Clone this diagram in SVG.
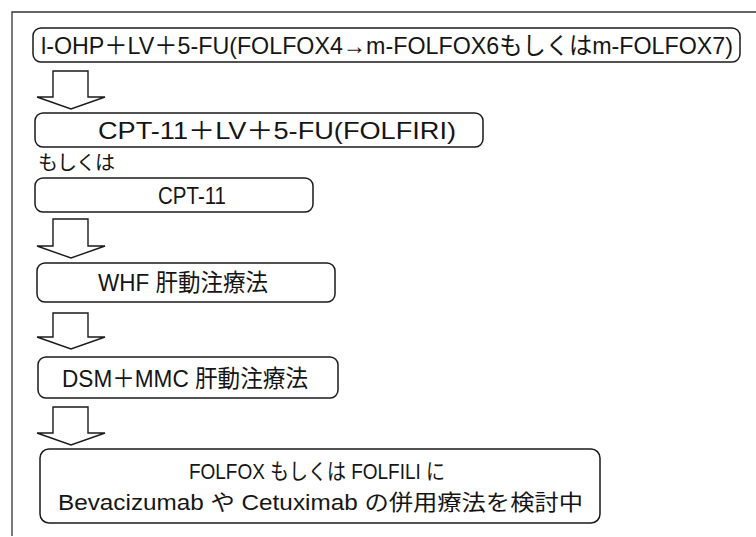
<svg xmlns="http://www.w3.org/2000/svg" width="756" height="537" viewBox="0 0 756 537">
<style>
.box{fill:#fff;stroke:#1a1a1a;stroke-width:1.5}
.arr{fill:#fff;stroke:#1a1a1a;stroke-width:1.4;stroke-linejoin:miter}
.frame{fill:none;stroke:#333;stroke-width:1.3}
text{font-family:"Liberation Sans","Noto Sans CJK JP",sans-serif;fill:#151515;font-weight:normal}
.t{font-size:24px}
.s{font-size:22px}
.o{font-size:20px}
</style>
<rect width="756" height="537" fill="#fff"/>
<path class="frame" d="M12 536 V12 H756"/>
<g id="n1">
<rect class="box" x="33" y="28" width="707" height="34" rx="8"/>
<text class="t" x="41" y="54" textLength="692" lengthAdjust="spacingAndGlyphs">l-OHP＋LV＋5-FU(FOLFOX4→m-FOLFOX6もしくはm-FOLFOX7)</text>
</g>
<g id="n2">
<rect class="box" x="35" y="113" width="448" height="34" rx="8"/>
<text class="t" x="98" y="139" textLength="358" lengthAdjust="spacingAndGlyphs">CPT-11＋LV＋5-FU(FOLFIRI)</text>
</g>
<g id="or">
<text class="o" x="38" y="170" textLength="77" lengthAdjust="spacing">もしくは</text>
</g>
<g id="n3">
<rect class="box" x="35" y="178" width="278" height="34" rx="8"/>
<text class="t" x="158" y="204" textLength="68" lengthAdjust="spacingAndGlyphs">CPT-11</text>
</g>
<g id="n4">
<rect class="box" x="37" y="263" width="298" height="39" rx="8"/>
<text class="t" x="98" y="291" textLength="170" lengthAdjust="spacingAndGlyphs">WHF 肝動注療法</text>
</g>
<g id="n5">
<rect class="box" x="38" y="357" width="300" height="41" rx="8"/>
<text class="t" x="62" y="387" textLength="246" lengthAdjust="spacingAndGlyphs">DSM＋MMC 肝動注療法</text>
</g>
<g id="n6">
<rect class="box" x="40" y="449" width="560" height="74" rx="9"/>
<text class="s" x="189" y="479" textLength="256" lengthAdjust="spacingAndGlyphs">FOLFOX もしくは FOLFILI に</text>
<text class="s" x="58" y="510" textLength="525" lengthAdjust="spacingAndGlyphs">Bevacizumab や Cetuximab の併用療法を検討中</text>
</g>
<g id="connectors">
<path class="arr" d="M53 71 H88 V97 H105 L71 109 L37 97 H53 Z"/>
<path class="arr" d="M53 219 H88 V246 H105 L71 258 L37 246 H53 Z"/>
<path class="arr" d="M53 313 H88 V337 H105 L71 349 L37 337 H53 Z"/>
<path class="arr" d="M53 407 H88 V433 H105 L71 445 L37 433 H53 Z"/>
</g>
</svg>
